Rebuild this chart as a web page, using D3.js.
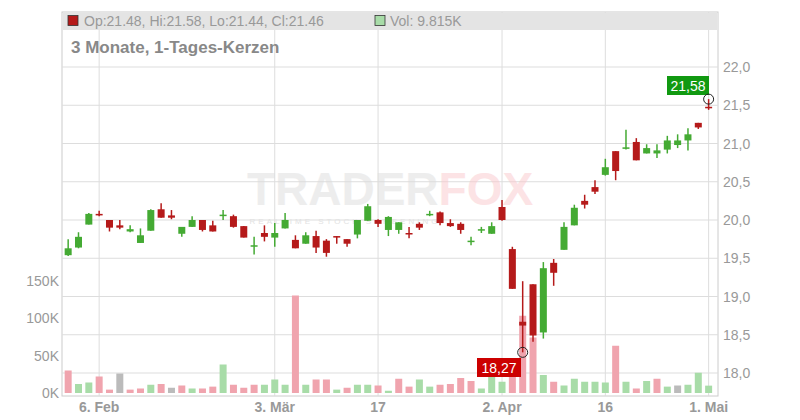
<!DOCTYPE html>
<html><head><meta charset="utf-8">
<script src="https://cdn.jsdelivr.net/npm/d3@7"></script>
<style>body{margin:0;background:#fff}svg{font-family:"Liberation Sans",Arial,sans-serif}</style>
</head><body><svg id="c" width="800" height="420"></svg>
<script>
const dates=["02-03","02-04","02-05","02-06","02-07","02-10","02-11","02-12","02-13","02-14","02-17","02-18","02-19","02-20","02-21","02-24","02-25","02-26","02-27","02-28","03-03","03-04","03-05","03-06","03-07","03-10","03-11","03-12","03-13","03-14","03-17","03-18","03-19","03-20","03-21","03-24","03-25","03-26","03-27","03-28","03-31","04-01","04-02","04-03","04-04","04-07","04-08","04-09","04-10","04-11","04-14","04-15","04-16","04-17","04-21","04-22","04-23","04-24","04-25","04-28","04-29","04-30","05-01","05-02"];
const open =[19.54,19.64,19.94,20.08,20.00,19.93,19.85,19.70,19.86,20.14,20.06,19.82,19.91,20.00,19.93,20.06,20.05,19.92,19.66,19.83,19.77,19.89,19.74,19.69,19.79,19.73,19.79,19.75,19.81,19.99,20.00,19.87,19.87,19.83,19.95,20.07,20.10,19.96,19.95,19.72,19.87,19.82,20.17,19.62,18.67,19.16,18.53,19.44,19.61,19.93,20.25,20.43,20.59,20.90,20.93,21.02,20.87,20.87,20.92,20.98,21.04,21.27,21.48];
const high =[19.75,19.84,20.09,20.12,20.00,20.00,19.93,19.89,20.14,20.22,20.13,19.91,20.05,20.00,19.99,20.13,20.07,19.92,19.78,19.93,19.96,20.09,19.80,19.84,19.86,19.75,19.79,19.75,20.00,20.21,20.01,20.05,19.97,19.91,19.97,20.12,20.11,20.01,19.97,19.78,19.91,19.97,20.26,19.65,19.20,19.16,19.45,19.49,19.97,20.20,20.33,20.52,20.80,20.90,21.18,21.07,20.99,20.99,21.10,21.12,21.20,21.27,21.58];
const low  =[19.53,19.63,19.94,20.05,19.85,19.88,19.84,19.70,19.86,20.03,20.01,19.78,19.91,19.85,19.85,20.00,19.90,19.77,19.55,19.72,19.65,19.89,19.63,19.69,19.57,19.52,19.69,19.65,19.76,19.99,19.91,19.79,19.82,19.76,19.87,20.05,19.93,19.91,19.82,19.67,19.83,19.82,19.99,19.10,18.27,18.41,18.45,19.14,19.61,19.93,20.15,20.34,20.58,20.52,20.92,20.78,20.87,20.81,20.87,20.94,20.91,21.19,21.44];
const close=[19.63,19.78,20.08,20.06,19.90,19.90,19.88,19.80,20.13,20.03,20.03,19.91,20.00,19.87,19.85,20.07,19.91,19.77,19.67,19.78,19.83,20.00,19.63,19.80,19.64,19.57,19.77,19.69,20.00,20.18,19.95,20.04,19.97,19.82,19.90,20.08,19.96,19.92,19.87,19.73,19.88,19.92,20.00,19.10,18.62,18.49,19.37,19.31,19.91,20.16,20.20,20.37,20.69,20.64,20.95,20.78,20.94,20.91,21.04,21.04,21.12,21.21,21.46];
const volume=[30,12,14,22,4.5,26,4.5,6,11,12,7,10,6,6,8.5,38,11,7,11,11,18,11,130,11,18,18,4.5,7,11,11,10,3,19,8.5,18,8.5,11,12,20,16,6,23,15,27,103,74,24,15,10,19,15,15,14,63,15,6,16,19,8.5,10,11,27,9.815];
const volDir=["d","u","u","d","d","n","d","d","u","d","n","d","u","d","d","u","d","d","d","u","u","u","d","u","d","d","u","d","u","u","d","u","d","d","u","u","d","d","d","d","u","u","u","d","d","d","u","d","u","u","u","u","u","d","u","d","u","d","u","n","u","u","u"];
const priceTicks=[18.0,18.5,19.0,19.5,20.0,20.5,21.0,21.5,22.0];
const volTicks=[0,50,100,150];
const dateTicks=[["02-06","6. Feb"],["03-03","3. Mär"],["03-17","17"],["04-02","2. Apr"],["04-16","16"],["05-01","1. Mai"]];

const svg=d3.select("#c");
const L=62,R=718,T=12,B=396;
const days=dates.slice(0,63);
const x=d3.scaleBand().domain(days).range([63,63+63*10.33]);
const y=d3.scaleLinear().domain([18,22]).range([373,67]);
const yv=d3.scaleLinear().domain([0,150]).range([393,280.5]);
const cx=d=>x(d)+x.bandwidth()/2;

svg.append("rect").attr("x",L).attr("y",T).attr("width",R-L).attr("height",B-T).attr("fill","none").attr("stroke","#ccc");
svg.append("g").selectAll("line").data(priceTicks).join("line").attr("x1",L).attr("x2",R).attr("y1",d=>y(d)).attr("y2",d=>y(d)).attr("stroke","#ddd");
svg.append("g").selectAll("line").data(dateTicks).join("line").attr("x1",d=>cx(d[0])).attr("x2",d=>cx(d[0])).attr("y1",T).attr("y2",B).attr("stroke","#ddd");
svg.append("rect").attr("x",L+1).attr("y",T+1).attr("width",R-L-2).attr("height",17).attr("fill","#e4e4e4");
svg.append("rect").attr("x",68).attr("y",15.5).attr("width",10).attr("height",10).attr("fill","#b51a1a").attr("stroke","#333").attr("stroke-width",0.8);
svg.append("text").attr("x",84).attr("y",25.5).attr("font-size",14).attr("fill","#999").text("Op:21.48, Hi:21.58, Lo:21.44, Cl:21.46");
svg.append("rect").attr("x",375).attr("y",15.5).attr("width",10).attr("height",10).attr("fill","#a8dca8").attr("stroke","#333").attr("stroke-width",0.8);
svg.append("text").attr("x",390).attr("y",25.5).attr("font-size",14).attr("fill","#999").text("Vol: 9.815K");
svg.append("text").attr("x",71).attr("y",53).attr("font-size",17).attr("font-weight","bold").attr("fill","#888").text("3 Monate, 1-Tages-Kerzen");
const wm=svg.append("text").attr("x",390).attr("y",205).attr("text-anchor","middle").attr("font-size",46).attr("font-weight","bold").attr("opacity",0.5);
wm.append("tspan").attr("fill","#ddd").text("TRADER");
wm.append("tspan").attr("fill","#fbc8cc").text("FOX");
svg.append("text").attr("x",345).attr("y",224).attr("text-anchor","middle").attr("font-size",8).attr("letter-spacing",3).attr("fill","#e2e2e2").text("REALTIME STOCK SCREENING");
const vcol={u:"#a8dca8",d:"#f0a4ae",n:"#bbbbbb"};
svg.append("g").selectAll("rect").data(days).join("rect")
 .attr("x",d=>cx(d)-3.5).attr("width",7).attr("y",(d,i)=>yv(volume[i])).attr("height",(d,i)=>yv(0)-yv(volume[i])).attr("fill",(d,i)=>vcol[volDir[i]]);
const up="#44aa33",dn="#b51a1a";
const g=svg.append("g");
days.forEach((d,i)=>{
  const c=close[i]>=open[i]?up:dn;
  g.append("line").attr("x1",cx(d)).attr("x2",cx(d)).attr("y1",y(high[i])).attr("y2",y(low[i])).attr("stroke",c).attr("stroke-width",1.5);
  const t=y(Math.max(open[i],close[i])),b=y(Math.min(open[i],close[i]));
  g.append("rect").attr("x",cx(d)-3.5).attr("width",7).attr("y",t).attr("height",Math.max(b-t,1.5)).attr("fill",c);
});
svg.append("g").selectAll("text").data(priceTicks).join("text").attr("x",723).attr("y",d=>y(d)+5).attr("font-size",14).attr("fill","#999").text(d=>d.toFixed(1).replace(".",","));
svg.append("g").selectAll("text").data(volTicks).join("text").attr("x",59).attr("y",d=>yv(d)+5).attr("text-anchor","end").attr("font-size",14).attr("fill","#999").text(d=>d+"K");
svg.append("g").selectAll("text").data(dateTicks).join("text").attr("x",d=>cx(d[0])).attr("y",412).attr("text-anchor","middle").attr("font-size",14).attr("font-weight","bold").attr("fill","#999").text(d=>d[1]);
const li=days.length-1;
svg.append("rect").attr("x",667).attr("y",76).attr("width",42).attr("height",19).attr("fill","#119911");
svg.append("text").attr("x",688).attr("y",90.5).attr("text-anchor","middle").attr("font-size",14).attr("fill","#fff").text("21,58");
svg.append("circle").attr("cx",cx(days[li])).attr("cy",y(high[li])).attr("r",5).attr("fill","none").attr("stroke","#222");
const mi=d3.minIndex(low);
svg.append("rect").attr("x",477).attr("y",358).attr("width",44).attr("height",19).attr("fill","#cc0000");
svg.append("text").attr("x",499).attr("y",372.5).attr("text-anchor","middle").attr("font-size",14).attr("fill","#fff").text("18,27");
svg.append("circle").attr("cx",cx(days[mi])).attr("cy",y(low[mi])).attr("r",5).attr("fill","none").attr("stroke","#222");
</script></body></html>
